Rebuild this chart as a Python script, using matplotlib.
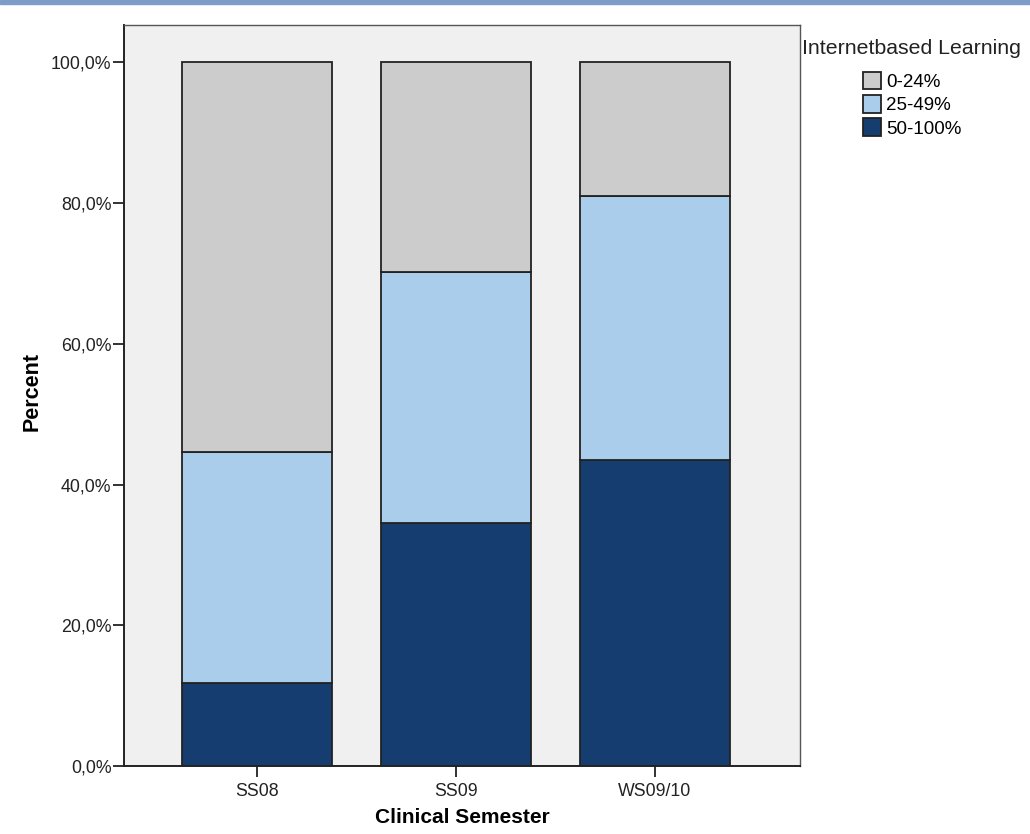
import numpy as np
import matplotlib
matplotlib.use('Agg')
import matplotlib.pyplot as plt
from matplotlib.ticker import FuncFormatter
from matplotlib.patches import Rectangle

matplotlib.rcParams['font.family'] = ['Liberation Sans', 'DejaVu Sans']

semesters = ['SS08', 'SS09', 'WS09/10']
groups = ['0-24%', '25-49%', '50-100%']
high = np.array([11.8, 34.5, 43.5])    # 50-100%
mid = np.array([32.8, 35.7, 37.5])     # 25-49%
low = np.array([55.4, 29.8, 19.0])     # 0-24%
colors = ['#cccccc', '#abcdec', '#153d6f']

fig = plt.figure(figsize=(10.3, 8.34), dpi=100, facecolor='white')
ax = fig.add_axes([0.1204, 0.0815, 0.6563, 0.8885])
ax.set_facecolor('#eff0ef')

x = np.arange(len(semesters))
w = 0.75
b1 = ax.bar(x, high, w, color=colors[2], edgecolor='#222222', linewidth=1.3)
b2 = ax.bar(x, mid, w, bottom=high, color=colors[1], edgecolor='#222222', linewidth=1.3)
b3 = ax.bar(x, low, w, bottom=high + mid, color=colors[0], edgecolor='#222222', linewidth=1.3)

ax.set_xlim(-0.668, 2.729)
ax.set_ylim(0, 105.3)
ax.set_yticks([0, 20, 40, 60, 80, 100])
ax.yaxis.set_major_formatter(FuncFormatter(lambda v, p: ('%.1f%%' % v).replace('.', ',')))
ax.set_xticks(x)
ax.set_xticklabels(semesters)
ax.tick_params(axis='both', direction='out', length=8, width=1.3, colors='#222222',
               labelsize=12.8, labelcolor='#222222')
ax.tick_params(axis='y', pad=1)
ax.tick_params(axis='x', pad=4)
for s in ['left', 'bottom']:
    ax.spines[s].set_color('#222222')
    ax.spines[s].set_linewidth(1.4)
for s in ['top', 'right']:
    ax.spines[s].set_color('#555555')
    ax.spines[s].set_linewidth(1.0)

ax.set_ylabel('Percent', fontsize=15.5, fontweight='bold')
ax.yaxis.set_label_coords(-0.12, 0.506)
ax.set_xlabel('Clinical Semester', fontsize=15, fontweight='bold')
ax.xaxis.set_label_coords(0.5, -0.056)

fig.text(802 / 1030, 1 - 48 / 834, 'Internetbased Learning', fontsize=15.3,
         ha='left', va='center', color='#222222')
fig.legend([b3, b2, b1], groups, loc='upper left',
           bbox_to_anchor=(863 / 1030, 1 - 72 / 834), frameon=False,
           fontsize=13.5, handlelength=0.96, handleheight=1.05,
           handletextpad=0.27, labelspacing=0.22, borderpad=0, borderaxespad=0)

fig.patches.append(Rectangle((0, 1 - 4 / 834), 1, 4 / 834, transform=fig.transFigure,
                             color='#7b9dc7', zorder=10))

plt.savefig('out.png', dpi=100)
